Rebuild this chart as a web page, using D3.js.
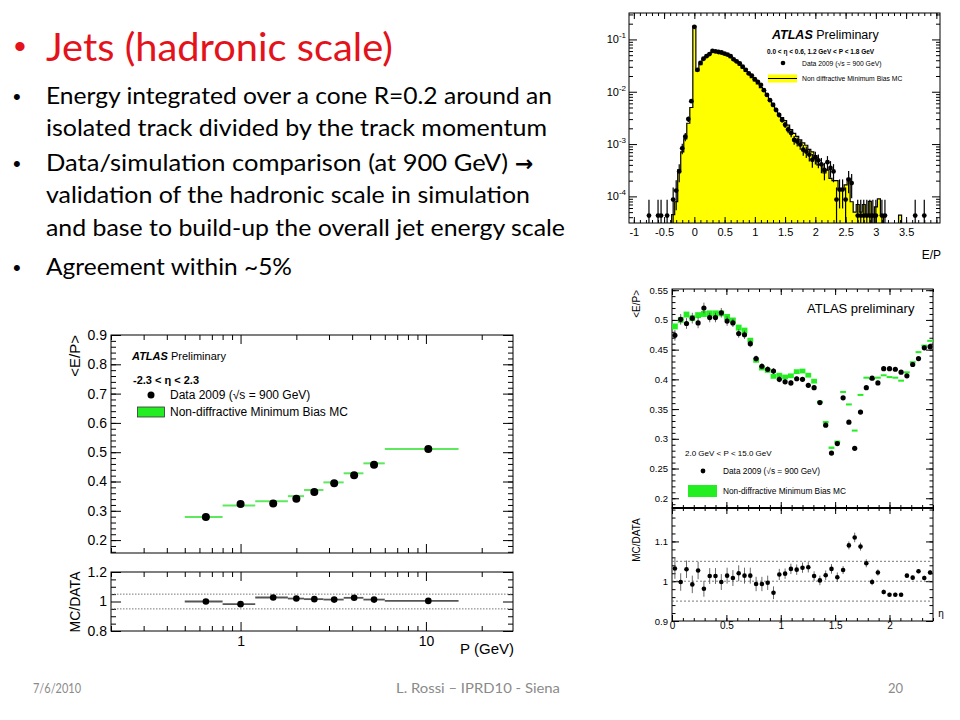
<!DOCTYPE html>
<html><head><meta charset="utf-8">
<script src="https://cdn.jsdelivr.net/npm/d3@7"></script>
<style>body{margin:0;background:#fff}</style>
</head><body><svg id="c" width="960" height="720"></svg>
<script>
// ---------------- DATA ----------------
const titleText = "Jets (hadronic scale)";
const bulletLines = [
  "Energy integrated over a cone R=0.2 around an",
  "isolated track divided by the track momentum",
  "Data/simulation comparison (at 900 GeV) ",
  "validation of the hadronic scale in simulation",
  "and base to build-up the overall jet energy scale",
  "Agreement within ~5%"
];
const footerTexts = ["7/6/2010", "L. Rossi  \u2013 IPRD10 - Siena", "20"];

// Top-right: E/P distribution
const epTickLabels = [-1, -0.5, 0, 0.5, 1, 1.5, 2, 2.5, 3, 3.5];
const histDecades = [1e-4, 1e-3, 1e-2, 1e-1];
const mcCenters = [-0.35,-0.3,-0.25,-0.2,-0.15,-0.1,-0.05,0,0.05,0.1,0.15,0.2,0.25,0.3,0.35,0.4,0.45,0.5,0.55,0.6,0.65,0.7,0.75,0.8,0.85,0.9,0.95,1.0,1.05,1.1,1.15,1.2,1.25,1.3,1.35,1.4,1.45,1.5,1.55,1.6,1.65,1.7,1.75,1.8,1.85,1.9,1.95,2.0,2.05,2.1,2.15,2.2,2.25,2.3,2.35,2.4,2.45,2.5,2.55,2.6,2.65,2.7,2.75,2.8,2.85,2.9,2.95,3.0,3.05,3.1,3.15,3.2,3.25,3.3,3.35,3.4];
const mcValues = [4.5e-5,7.9e-5,3.2e-4,7.1e-4,1.26e-3,2.5e-3,5.0e-3,0.178,0.0251,0.0331,0.0417,0.0468,0.0525,0.0575,0.0575,0.0562,0.0537,0.0513,0.0490,0.0447,0.0398,0.0363,0.0324,0.0282,0.0245,0.0214,0.0186,0.0162,0.0141,0.0120,0.0102,0.0085,0.0071,0.0060,0.0045,0.0038,0.0032,0.0028,0.0023,0.0019,0.0016,0.0014,0.0012,0.00105,0.00095,0.00079,0.00071,0.0006,0.0004,0.0004,0.00028,0.00032,0.00022,0.0002,0.0002,0.00014,0.00014,0.000166,0.00022,7.9e-5,5e-5,7e-5,5e-5,7e-5,4.5e-5,8e-5,0,6.3e-5,9e-5,4.5e-5,0,0,0,0,0,4.4e-5];
const dataCenters = [-0.75,-0.6,-0.55,-0.45,-0.35,-0.3,-0.25,-0.2,-0.15,-0.1,-0.05,0,0.05,0.1,0.15,0.2,0.25,0.3,0.35,0.4,0.45,0.5,0.55,0.6,0.65,0.7,0.75,0.8,0.85,0.9,0.95,1.0,1.05,1.1,1.15,1.2,1.25,1.3,1.35,1.4,1.45,1.5,1.55,1.6,1.65,1.7,1.75,1.8,1.85,1.9,1.95,2.0,2.05,2.1,2.15,2.2,2.25,2.3,2.35,2.4,2.45,2.5,2.55,2.6,2.7,2.75,2.8,2.85,2.9,2.95,3.0,3.1,3.15,3.65,3.8];
const dataValues = [4.3e-5,4.3e-5,4.3e-5,4.3e-5,8.7e-5,1.29e-4,3.0e-4,8.3e-4,1.38e-3,3.0e-3,6.6e-3,0.174,0.0263,0.0355,0.0427,0.0479,0.0525,0.0603,0.0589,0.0575,0.0562,0.0537,0.0513,0.0479,0.0417,0.0380,0.0347,0.0302,0.0263,0.0224,0.0204,0.0174,0.0155,0.0135,0.0107,0.0087,0.0069,0.0056,0.0045,0.0036,0.0029,0.00234,0.0019,0.00162,0.0012,0.00112,0.00098,0.00078,0.00072,0.00063,0.0005,0.00056,0.00049,0.00041,0.00032,0.00045,0.00035,0.0003,8.7e-5,1.35e-4,1.35e-4,8.7e-5,2.1e-4,1.8e-4,4.3e-5,4.3e-5,4.3e-5,4.3e-5,4.3e-5,4.3e-5,4.3e-5,4.3e-5,4.3e-5,4.3e-5,4.3e-5];
const oneEventLevel = 4.3e-5;

// Bottom-left: <E/P> vs P
const pCenters = [0.65, 1.0, 1.5, 2.0, 2.5, 3.2, 4.1, 5.25, 10.3];
const pEdges = [0.5, 0.8, 1.2, 1.8, 2.2, 2.8, 3.6, 4.6, 6.0, 15.0];
const epDataP = [0.279, 0.323, 0.325, 0.341, 0.364, 0.394, 0.421, 0.457, 0.511];
const epMcP = [0.279, 0.318, 0.333, 0.350, 0.371, 0.397, 0.428, 0.462, 0.511];
const ratioP = [1.0, 0.982, 1.027, 1.02, 1.016, 1.013, 1.025, 1.013, 1.004];
const pTickLabels = [1, 10];
const epYTicks = [0.2, 0.3, 0.4, 0.5, 0.6, 0.7, 0.8, 0.9];
const ratioPYTicks = [0.8, 1, 1.2];

// Bottom-right: <E/P> vs eta (45 bins over 0..2.4)
const etaBinCount = 45;
const etaData = [0.474,0.501,0.494,0.503,0.495,0.520,0.504,0.504,0.512,0.498,0.495,0.477,0.475,0.460,0.435,0.422,0.417,0.414,0.400,0.396,0.394,0.401,0.400,0.390,0.386,0.361,0.323,0.276,0.292,0.369,0.328,0.284,0.345,0.386,0.402,0.394,0.418,0.418,0.417,0.412,0.406,0.425,0.435,0.453,0.455];
const etaDataErr = [0.009,0.009,0.009,0.009,0.009,0.009,0.008,0.008,0.008,0.008,0.007,0.007,0.007,0.006,0.005,0.005,0.005,0.005,0.005,0.005,0.005,0.004,0.004,0.004,0.004,0.003,0.003,0.003,0.003,0.003,0.003,0.003,0.003,0.003,0.003,0.003,0.003,0.003,0.003,0.003,0.003,0.003,0.003,0.003,0.003];
const etaMC = [0.489,0.500,0.509,0.503,0.508,0.510,0.511,0.511,0.511,0.505,0.499,0.487,0.482,0.466,0.432,0.419,0.415,0.405,0.407,0.404,0.406,0.413,0.414,0.407,0.397,0.362,0.328,0.285,0.295,0.379,0.358,0.314,0.374,0.403,0.401,0.403,0.407,0.404,0.403,0.398,0.412,0.429,0.446,0.457,0.465];
const etaMCErr = [0.005,0.005,0.005,0.005,0.005,0.005,0.005,0.005,0.005,0.005,0.005,0.005,0.005,0.004,0.004,0.004,0.004,0.004,0.004,0.004,0.004,0.004,0.004,0.004,0.004,0.002,0.002,0.002,0.002,0.0015,0.0015,0.0015,0.0015,0.0015,0.0015,0.0015,0.0015,0.0015,0.0015,0.0015,0.0015,0.0015,0.0015,0.0015,0.0015];
const etaRatio = [1.032,0.998,1.030,0.992,1.027,0.981,1.013,1.013,0.998,1.014,1.008,1.020,1.014,1.014,0.993,0.993,0.996,0.971,1.017,1.019,1.031,1.029,1.034,1.035,1.013,1.002,1.015,1.031,1.010,1.028,1.090,1.110,1.087,1.045,0.998,1.022,0.973,0.966,0.966,0.966,1.014,1.009,1.025,1.008,1.022];
const etaRatioErr = [0.026,0.022,0.022,0.022,0.022,0.02,0.02,0.02,0.02,0.02,0.02,0.02,0.02,0.02,0.018,0.018,0.018,0.016,0.014,0.013,0.013,0.013,0.013,0.013,0.012,0.012,0.012,0.012,0.012,0.01,0.01,0.012,0.01,0.01,0.008,0.008,0.006,0.005,0.005,0.005,0.005,0.005,0.005,0.006,0.006];
const etaTickLabels = [0, 0.5, 1, 1.5, 2];
const etaYTicks = [0.2, 0.25, 0.3, 0.35, 0.4, 0.45, 0.5, 0.55];
const etaRatioYTicks = [0.9, 1, 1.1];

// ---------------- DRAW ----------------
const svg = d3.select('#c');
svg.append('rect').attr('width', 960).attr('height', 720).attr('fill', '#fff');
const F = "'Liberation Sans', Arial, Helvetica, sans-serif";
const SF = "Lato, 'Open Sans', sans-serif";

// slide text
svg.append('text').attr('x', 14).attr('y', 58).attr('font-family', 'Arial, sans-serif').attr('font-size', 34).attr('fill', '#e3121b').text('\u2022');
svg.append('text').attr('x', 46).attr('y', 61).attr('font-family', SF).attr('font-size', 39)
  .attr('fill', '#e3121b').attr('textLength', 347).attr('lengthAdjust', 'spacingAndGlyphs').text(titleText);
const lineY = [104, 136, 171, 203, 236, 275];
const lineW = [506, 501, 462, 484, 519, 246];
const bulletAt = [0, 2, 5];
bulletLines.forEach((t, i) => {
  svg.append('text').attr('x', 46).attr('y', lineY[i]).attr('font-family', SF).attr('font-size', 24)
    .attr('fill', '#000').attr('textLength', lineW[i]).attr('lengthAdjust', 'spacingAndGlyphs').text(t);
});
bulletAt.forEach(i => svg.append('text').attr('x', 13).attr('y', lineY[i]).attr('font-family', 'Arial, sans-serif')
  .attr('font-size', 22).attr('fill', '#000').text('\u2022'));
svg.append('text').attr('x', 515).attr('y', 171).attr('font-family', "'DejaVu Sans', sans-serif").attr('font-weight', 'bold')
  .attr('font-size', 22).attr('fill', '#000').text('\u2192');

// footer
const foot = svg.append('g').attr('font-family', SF).attr('font-size', 13).attr('fill', '#8a8a8a');
foot.append('text').attr('x', 33).attr('y', 693).attr('textLength', 48).attr('lengthAdjust', 'spacingAndGlyphs').text(footerTexts[0]);
foot.append('text').attr('x', 396).attr('y', 693).attr('textLength', 164).attr('lengthAdjust', 'spacingAndGlyphs').text(footerTexts[1]);
foot.append('text').attr('x', 903).attr('y', 693).attr('text-anchor', 'end').text(footerTexts[2]);

// helpers
function axisG(g, kind, scale, vals, size, tr, fmt, fs, pad) {
  const a = d3[kind](scale).tickValues(vals).tickSizeInner(-size).tickSizeOuter(0).tickPadding(pad || 3).tickFormat(fmt || (() => ''));
  const ag = g.append('g').attr('transform', tr).call(a);
  ag.select('.domain').remove();
  ag.selectAll('line').attr('stroke', '#000');
  ag.selectAll('text').attr('font-family', F).attr('font-size', fs || 10).attr('fill', '#000');
  return ag;
}
function frameTicks(g, xs, ys, o) {
  const [X0, X1] = xs.range(), [YB, YT] = ys.range();
  const inX = v => { const p = xs(v); return p >= X0 - 0.5 && p <= X1 + 0.5; };
  const inY = v => { const p = ys(v); return p <= YB + 0.5 && p >= YT - 0.5; };
  const xM = o.xMaj.filter(inX), xm = o.xMin.filter(inX), yM = o.yMaj.filter(inY), ym = o.yMin.filter(inY);
  if (o.bottom !== false) { axisG(g, 'axisBottom', xs, xM, o.xL, `translate(0,${YB})`, o.xFmt, o.xFs, o.xPad); axisG(g, 'axisBottom', xs, xm, o.xl, `translate(0,${YB})`); }
  if (o.top !== false) { axisG(g, 'axisTop', xs, xM, o.xL, `translate(0,${YT})`); axisG(g, 'axisTop', xs, xm, o.xl, `translate(0,${YT})`); }
  axisG(g, 'axisLeft', ys, yM, o.yL, `translate(${X0},0)`, o.yFmt, o.yFs, o.yPad); axisG(g, 'axisLeft', ys, ym, o.yl, `translate(${X0},0)`);
  axisG(g, 'axisRight', ys, yM, o.yL, `translate(${X1},0)`); axisG(g, 'axisRight', ys, ym, o.yl, `translate(${X1},0)`);
  g.append('rect').attr('x', X0).attr('y', YT).attr('width', X1 - X0).attr('height', YB - YT)
    .attr('fill', 'none').attr('stroke', '#000').attr('stroke-width', o.fw || 1);
}
function logMinor(lo, hi) { const out = []; for (let e = Math.floor(Math.log10(lo)); e <= Math.ceil(Math.log10(hi)); e++) for (let m = 2; m <= 9; m++) out.push(m * Math.pow(10, e)); return out; }
function clipRect(id, X0, YT, W, H) { svg.append('clipPath').attr('id', id).append('rect').attr('x', X0).attr('y', YT).attr('width', W).attr('height', H); }

// ===== TOP-RIGHT histogram =====
{
  const g = svg.append('g');
  const xs = d3.scaleLinear().domain([-1.08, 4.06]).range([629, 940]);
  const ys = d3.scaleLog().domain([3.1e-5, 0.32]).range([223, 13]);
  clipRect('c1', 629, 13, 311, 210);
  const pg = g.append('g').attr('clip-path', 'url(#c1)');
  const ymin = ys.domain()[0] * 0.5;
  const bw = 0.05;
  const steps = mcCenters.map((c, i) => ({ x: c - bw / 2, v: Math.max(mcValues[i], ymin) }));
  steps.push({ x: mcCenters[mcCenters.length - 1] + bw / 2, v: ymin });
  const area = d3.area().curve(d3.curveStepAfter).x(d => xs(d.x)).y0(ys(ymin)).y1(d => ys(d.v));
  const line = d3.line().curve(d3.curveStepAfter).x(d => xs(d.x)).y(d => ys(d.v));
  const first = [{ x: steps[0].x, v: ymin }];
  pg.append('path').attr('d', area(steps)).attr('fill', '#ffff00');
  pg.append('path').attr('d', line(first.concat(steps))).attr('fill', 'none').attr('stroke', '#000').attr('stroke-width', 1.2);
  // data
  const dg = pg.append('g');
  dataCenters.forEach((c, i) => {
    const v = dataValues[i], e = Math.sqrt(v * oneEventLevel);
    const lo = Math.max(v - e, ymin);
    dg.append('line').attr('x1', xs(c)).attr('x2', xs(c)).attr('y1', ys(lo)).attr('y2', ys(v + e)).attr('stroke', '#000').attr('stroke-width', 1.2);
    dg.append('circle').attr('cx', xs(c)).attr('cy', ys(v)).attr('r', 2.4).attr('fill', '#000');
  });
  const xMin = d3.range(-10, 41).map(d => d / 10);
  frameTicks(g, xs, ys, {
    xMaj: epTickLabels.concat([4]), xMin: xMin, yMaj: histDecades, yMin: logMinor(1e-5, 1),
    xL: 6, xl: 3, yL: 8, yl: 4, xFmt: d => (epTickLabels.includes(d) ? String(d) : ''), xFs: 11, xPad: 5
  });
  // y labels 10^k
  histDecades.forEach(d => {
    const t = g.append('text').attr('x', 626).attr('y', ys(d) + 4).attr('text-anchor', 'end').attr('font-family', F).attr('font-size', 11);
    t.append('tspan').text('10');
    t.append('tspan').attr('font-size', 8).attr('dy', -5).text(String(Math.round(Math.log10(d))));
  });
  g.append('text').attr('x', 941).attr('y', 259).attr('text-anchor', 'end').attr('font-family', F).attr('font-size', 12).text('E/P');
  // legend
  const lt = g.append('text').attr('x', 772).attr('y', 39).attr('font-family', F).attr('font-size', 12.5);
  lt.append('tspan').attr('font-weight', 'bold').attr('font-style', 'italic').text('ATLAS');
  lt.append('tspan').text(' Preliminary');
  g.append('text').attr('x', 767).attr('y', 54).attr('font-family', F).attr('font-size', 6.5).attr('font-weight', 'bold')
    .text('0.0 < \u03b7 < 0.6, 1.2 GeV < P < 1.8 GeV');
  g.append('circle').attr('cx', 783).attr('cy', 63).attr('r', 2.3).attr('fill', '#000');
  g.append('text').attr('x', 802).attr('y', 65.5).attr('font-family', F).attr('font-size', 6.8).text('Data 2009 (\u221as = 900 GeV)');
  g.append('rect').attr('x', 768).attr('y', 74.5).attr('width', 29).attr('height', 8).attr('fill', '#ffff00');
  g.append('line').attr('x1', 768).attr('x2', 797).attr('y1', 78.5).attr('y2', 78.5).attr('stroke', '#000').attr('stroke-width', 1);
  g.append('text').attr('x', 802).attr('y', 81).attr('font-family', F).attr('font-size', 6.8).text('Non diffractive Minimum Bias MC');
}

// ===== BOTTOM-LEFT <E/P> vs P =====
{
  const g = svg.append('g');
  const xs = d3.scaleLog().domain([0.2, 29.5]).range([111, 513]);
  const ys = d3.scaleLinear().domain([0.156, 0.9]).range([553, 335]);
  const yr = d3.scaleLinear().domain([0.8, 1.2]).range([631, 572]);
  const xMinorVals = [0.2,0.3,0.4,0.5,0.6,0.7,0.8,0.9,2,3,4,5,6,7,8,9,20];
  frameTicks(g, xs, ys, { xMaj: [1, 10], xMin: xMinorVals, yMaj: epYTicks, yMin: d3.range(16, 91, 2).map(d => d / 100),
    xL: 9, xl: 5, yL: 10, yl: 5, xFmt: () => '', yFmt: d3.format('.1f'), yFs: 14, yPad: 4 });
  // MC bars
  epMcP.forEach((v, i) => g.append('line').attr('x1', xs(pEdges[i])).attr('x2', xs(pEdges[i + 1])).attr('y1', ys(v)).attr('y2', ys(v))
    .attr('stroke', '#5ee85e').attr('stroke-width', 2));
  pCenters.forEach((c, i) => g.append('circle').attr('cx', xs(c)).attr('cy', ys(epDataP[i])).attr('r', 4).attr('fill', '#000'));
  // ratio
  const rg = svg.append('g');
  frameTicks(rg, xs, yr, { xMaj: [1, 10], xMin: xMinorVals, yMaj: ratioPYTicks, yMin: [0.85, 0.9, 0.95, 1.05, 1.1, 1.15],
    xL: 9, xl: 5, yL: 10, yl: 5, xFmt: d => String(d), xFs: 14, xPad: 5, yFmt: d => String(d), yFs: 14, yPad: 4 });
  [1.05, 0.95].forEach(v => rg.append('line').attr('x1', 111).attr('x2', 513).attr('y1', yr(v)).attr('y2', yr(v))
    .attr('stroke', '#777').attr('stroke-width', 1).attr('stroke-dasharray', '1.5,1.5'));
  ratioP.forEach((v, i) => rg.append('line').attr('x1', xs(pEdges[i])).attr('x2', xs(pEdges[i + 1])).attr('y1', yr(v)).attr('y2', yr(v))
    .attr('stroke', '#555').attr('stroke-width', 1.8));
  pCenters.forEach((c, i) => rg.append('circle').attr('cx', xs(c)).attr('cy', yr(ratioP[i])).attr('r', 3.3).attr('fill', '#000'));
  // titles
  g.append('text').attr('transform', 'translate(80,335) rotate(-90)').attr('text-anchor', 'end').attr('font-family', F).attr('font-size', 15).text('<E/P>');
  g.append('text').attr('transform', 'translate(80,602) rotate(-90)').attr('text-anchor', 'middle').attr('font-family', F).attr('font-size', 14).text('MC/DATA');
  g.append('text').attr('x', 514).attr('y', 654).attr('text-anchor', 'end').attr('font-family', F).attr('font-size', 15).text('P (GeV)');
  // legend
  const lt = g.append('text').attr('x', 132).attr('y', 360).attr('font-family', F).attr('font-size', 11);
  lt.append('tspan').attr('font-weight', 'bold').attr('font-style', 'italic').text('ATLAS');
  lt.append('tspan').text(' Preliminary');
  g.append('text').attr('x', 133).attr('y', 384).attr('font-family', F).attr('font-size', 11).attr('font-weight', 'bold').text('-2.3 < \u03b7 < 2.3');
  g.append('circle').attr('cx', 151).attr('cy', 395).attr('r', 3.5).attr('fill', '#000');
  g.append('text').attr('x', 170).attr('y', 399).attr('font-family', F).attr('font-size', 12).text('Data 2009 (\u221as = 900 GeV)');
  g.append('rect').attr('x', 137.5).attr('y', 407).attr('width', 27).attr('height', 10).attr('fill', '#22ee22').attr('stroke', '#333').attr('stroke-width', 0.8);
  g.append('text').attr('x', 170).attr('y', 416).attr('font-family', F).attr('font-size', 12).text('Non-diffractive Minimum Bias MC');
}

// ===== BOTTOM-RIGHT <E/P> vs eta =====
{
  const g = svg.append('g');
  const xs = d3.scaleLinear().domain([0, 2.4]).range([672, 933]);
  const ys = d3.scaleLinear().domain([0.1836, 0.552]).range([508, 289]);
  const yr = d3.scaleLinear().domain([0.9, 1.184]).range([621, 508]);
  const bw = 2.4 / etaBinCount;
  const centers = d3.range(etaBinCount).map(k => (k + 0.5) * bw);
  const xMin = d3.range(0, 25).map(d => d / 10);
  frameTicks(g, xs, ys, { xMaj: [0, 0.5, 1, 1.5, 2], xMin: xMin, yMaj: etaYTicks, yMin: d3.range(19, 56).map(d => d / 100),
    xL: 6, xl: 3, yL: 7, yl: 3.5, bottom: true, xFmt: () => '', yFmt: d => String(d), yFs: 9.5, yPad: 4 });
  centers.forEach((c, k) => g.append('rect').attr('x', xs(c - bw / 2)).attr('width', xs(bw) - xs(0))
    .attr('y', ys(etaMC[k] + etaMCErr[k])).attr('height', Math.max(2, ys(etaMC[k] - etaMCErr[k]) - ys(etaMC[k] + etaMCErr[k])))
    .attr('fill', '#22ee22'));
  centers.forEach((c, k) => {
    g.append('line').attr('x1', xs(c)).attr('x2', xs(c)).attr('y1', ys(etaData[k] - etaDataErr[k])).attr('y2', ys(etaData[k] + etaDataErr[k])).attr('stroke', '#444').attr('stroke-width', 0.8);
    g.append('circle').attr('cx', xs(c)).attr('cy', ys(etaData[k])).attr('r', 2.6).attr('fill', '#000');
  });
  // ratio
  const rg = svg.append('g');
  frameTicks(rg, xs, yr, { xMaj: [0, 0.5, 1, 1.5, 2], xMin: xMin, yMaj: etaRatioYTicks, yMin: d3.range(90, 119, 2).map(d => d / 100),
    xL: 6, xl: 3, yL: 7, yl: 3.5, xFmt: d => String(d), xFs: 10, xPad: 1, yFmt: d => String(d), yFs: 9.5, yPad: 4 });
  [1.05, 1.0, 0.95].forEach(v => rg.append('line').attr('x1', 672).attr('x2', 933).attr('y1', yr(v)).attr('y2', yr(v))
    .attr('stroke', '#555').attr('stroke-width', 0.8).attr('stroke-dasharray', '2,2'));
  centers.forEach((c, k) => {
    rg.append('line').attr('x1', xs(c)).attr('x2', xs(c)).attr('y1', yr(etaRatio[k] - etaRatioErr[k])).attr('y2', yr(etaRatio[k] + etaRatioErr[k])).attr('stroke', '#444').attr('stroke-width', 0.8);
    rg.append('circle').attr('cx', xs(c)).attr('cy', yr(etaRatio[k])).attr('r', 2.3).attr('fill', '#000');
  });
  rg.append('line').attr('x1', 672).attr('x2', 933).attr('y1', 508).attr('y2', 508).attr('stroke', '#000').attr('stroke-width', 2);
  // titles
  g.append('text').attr('transform', 'translate(640,290) rotate(-90)').attr('text-anchor', 'end').attr('font-family', F).attr('font-size', 10).text('<E/P>');
  g.append('text').attr('transform', 'translate(640,540) rotate(-90)').attr('text-anchor', 'middle').attr('font-family', F).attr('font-size', 10).text('MC/DATA');
  g.append('text').attr('x', 941).attr('y', 617).attr('text-anchor', 'middle').attr('font-family', F).attr('font-size', 10).text('\u03b7');
  // legend
  g.append('text').attr('x', 807).attr('y', 313).attr('font-family', F).attr('font-size', 13).text('ATLAS preliminary');
  g.append('text').attr('x', 685).attr('y', 456).attr('font-family', F).attr('font-size', 8).text('2.0 GeV < P < 15.0 GeV');
  g.append('circle').attr('cx', 703).attr('cy', 471).attr('r', 2.4).attr('fill', '#000');
  g.append('text').attr('x', 723).attr('y', 474).attr('font-family', F).attr('font-size', 8.3).text('Data 2009 (\u221as = 900 GeV)');
  g.append('rect').attr('x', 688).attr('y', 485).attr('width', 29).attr('height', 12).attr('fill', '#22ee22');
  g.append('text').attr('x', 723).attr('y', 494).attr('font-family', F).attr('font-size', 8.3).text('Non-diffractive Minimum Bias MC');
}
</script></body></html>
